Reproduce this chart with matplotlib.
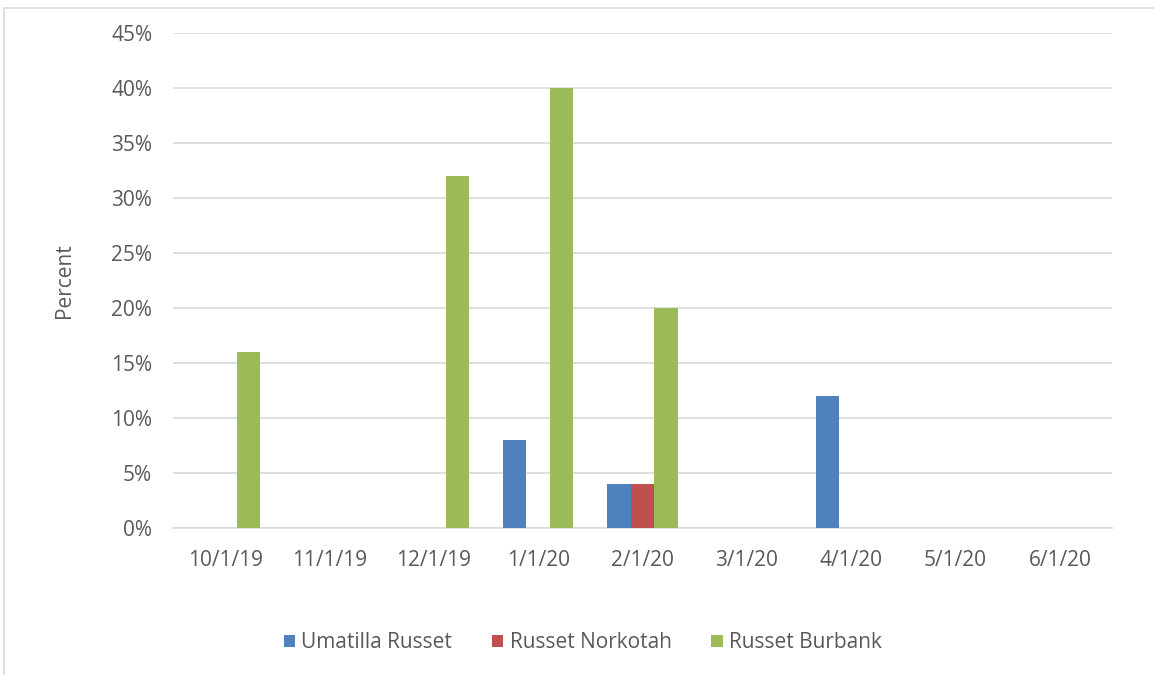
import matplotlib
matplotlib.use("Agg")
import matplotlib.pyplot as plt
from matplotlib.patches import Rectangle
import numpy as np

categories = ["10/1/19", "11/1/19", "12/1/19", "1/1/20", "2/1/20", "3/1/20", "4/1/20", "5/1/20", "6/1/20"]
umatilla = [0, 0, 0, 8, 4, 0, 12, 0, 0]
norkotah = [0, 0, 0, 0, 4, 0, 0, 0, 0]
burbank = [16, 0, 32, 40, 20, 0, 0, 0, 0]
series_names = ["Umatilla Russet", "Russet Norkotah", "Russet Burbank"]
colors = ["#4f81bd", "#c0504d", "#9bbb59"]
yticks = [0, 5, 10, 15, 20, 25, 30, 35, 40, 45]

plt.rcParams['font.family'] = ['Open Sans', 'DejaVu Sans']
text_color = "#595959"
fs = 15

fig = plt.figure(figsize=(11.54, 6.75), dpi=100)
fig.patches.append(Rectangle((4/1154, -0.01), 1.0, 1 - 8/675 + 0.01, transform=fig.transFigure,
                             fill=False, edgecolor="#d9d9d9", linewidth=1.2))
ax = fig.add_axes([173/1154, 1 - 528/675, (1112-173)/1154, (528-33)/675])

x = np.arange(len(categories))
w = 0.225
for i, (vals, name, c) in enumerate(zip([umatilla, norkotah, burbank], series_names, colors)):
    ax.bar(x + (i - 1) * w, vals, width=w, color=c, label=name, linewidth=0, zorder=3)

ax.set_xlim(-0.5, len(categories) - 0.5)
ax.set_ylim(0, 45)
ax.set_yticks(yticks)
ax.set_yticklabels([f"{v}%" for v in yticks])
ax.set_xticks(x)
ax.set_xticklabels(categories)
ax.grid(axis='y', color="#d9d9d9", linewidth=1.2, zorder=0)
for s in ["top", "right", "left"]:
    ax.spines[s].set_visible(False)
ax.spines["bottom"].set_color("#d9d9d9")
ax.spines["bottom"].set_linewidth(1.2)
ax.tick_params(axis='both', length=0, labelsize=fs, colors=text_color)
ax.tick_params(axis='y', pad=15)
ax.tick_params(axis='x', pad=16)
ax.set_ylabel("Percent", fontsize=fs, color=text_color, labelpad=26)

fig.legend(loc='center', bbox_to_anchor=(0.505, 1 - 643/675), ncol=3, frameon=False,
           fontsize=fs, labelcolor=text_color, handlelength=0.55, handleheight=0.55,
           columnspacing=1.9, handletextpad=0.3)

fig.savefig("out.png", dpi=100)
